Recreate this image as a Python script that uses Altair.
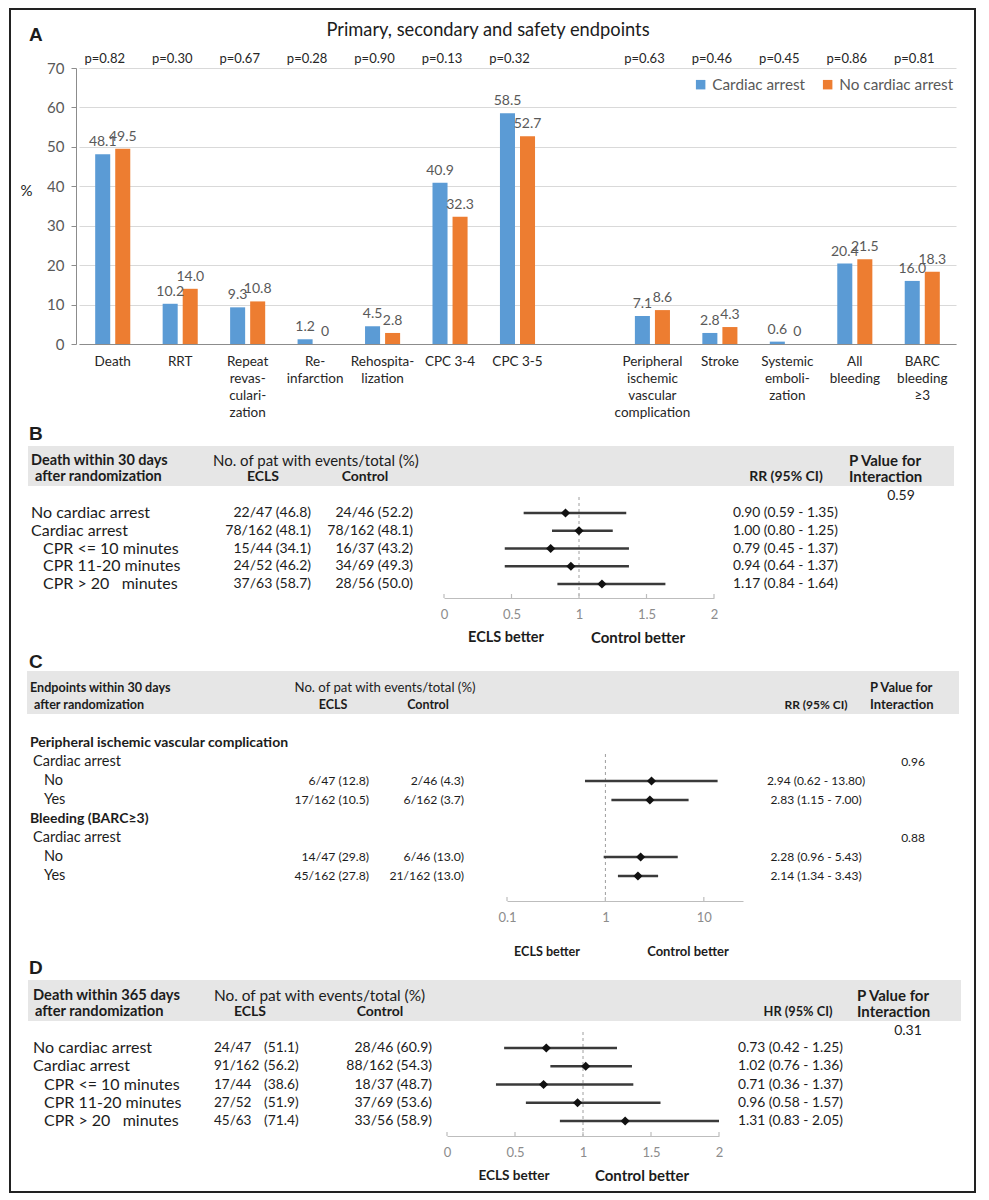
import altair as alt
import pandas as pd

FONT = "Lato"
LETTER_FONT = "Liberation Sans"
INK = "#1c1c1c"
AXIS_GREY = "#8c8c8c"
FRAME = "#222222"
HEADER_FILL = "#e6e6e6"
VIEW_W = 968

# ---------------- Panel A data ----------------
a_categories = ["Death", "RRT", "Repeat|revas-|culari-|zation", "Re-|infarction",
                "Rehospita-|lization", "CPC 3-4", "CPC 3-5",
                "Peripheral|ischemic|vascular|complication", "Stroke",
                "Systemic|emboli-|zation", "All|bleeding", "BARC|bleeding|≥3"]
a_cardiac_arrest = [48.1, 10.2, 9.3, 1.2, 4.5, 40.9, 58.5, 7.1, 2.8, 0.6, 20.4, 16.0]
a_no_cardiac_arrest = [49.5, 14.0, 10.8, 0.0, 2.8, 32.3, 52.7, 8.6, 4.3, 0.0, 21.5, 18.3]
a_p_values = ["p=0.82", "p=0.30", "p=0.67", "p=0.28", "p=0.90", "p=0.13", "p=0.32",
              "p=0.63", "p=0.46", "p=0.45", "p=0.86", "p=0.81"]
a_series = ["Cardiac arrest", "No cardiac arrest"]
a_colors = ["#5B9BD5", "#ED7D31"]
a_y_ticks = [0, 10, 20, 30, 40, 50, 60, 70]

# ---------------- Panel B data ----------------
b_subgroups = ["No cardiac arrest", "Cardiac arrest", "CPR <= 10 minutes",
               "CPR 11-20 minutes", "CPR > 20\u00a0\u00a0\u00a0minutes"]
b_levels = [0, 0, 1, 1, 1]
b_ecls = ["22/47 (46.8)", "78/162 (48.1)", "15/44 (34.1)", "24/52 (46.2)", "37/63 (58.7)"]
b_control = ["24/46 (52.2)", "78/162 (48.1)", "16/37 (43.2)", "34/69 (49.3)", "28/56 (50.0)"]
b_rr_text = ["0.90 (0.59 - 1.35)", "1.00 (0.80 - 1.25)", "0.79 (0.45 - 1.37)",
             "0.94 (0.64 - 1.37)", "1.17 (0.84 - 1.64)"]
b_est = [0.90, 1.00, 0.79, 0.94, 1.17]
b_lo = [0.59, 0.80, 0.45, 0.45, 0.84]   # whiskers as drawn in the figure
b_hi = [1.35, 1.25, 1.37, 1.37, 1.64]
b_p_interaction = "0.59"
b_x_ticks = [0, 0.5, 1, 1.5, 2]

# ---------------- Panel C data ----------------
c_rows = ["Peripheral ischemic vascular complication", "Cardiac arrest", "No", "Yes",
          "Bleeding (BARC≥3)", "Cardiac arrest", "No", "Yes"]
c_levels = [0, 1, 2, 2, 0, 1, 2, 2]
c_ecls = ["", "", "6/47 (12.8)", "17/162 (10.5)", "", "", "14/47 (29.8)", "45/162 (27.8)"]
c_control = ["", "", "2/46 (4.3)", "6/162 (3.7)", "", "", "6/46 (13.0)", "21/162 (13.0)"]
c_rr_text = ["", "", "2.94 (0.62 - 13.80)", "2.83 (1.15 - 7.00)", "", "",
             "2.28 (0.96 - 5.43)", "2.14 (1.34 - 3.43)"]
c_est = [None, None, 2.94, 2.83, None, None, 2.28, 2.14]
c_lo = [None, None, 0.62, 1.15, None, None, 0.96, 1.34]
c_hi = [None, None, 13.80, 7.00, None, None, 5.43, 3.43]
c_p_interaction = ["", "0.96", "", "", "", "0.88", "", ""]
c_x_ticks = [0.1, 1, 10]

# ---------------- Panel D data ----------------
d_subgroups = ["No cardiac arrest", "Cardiac arrest", "CPR <= 10 minutes",
               "CPR 11-20 minutes", "CPR > 20\u00a0\u00a0\u00a0minutes"]
d_levels = [0, 0, 1, 1, 1]
d_ecls_n = ["24/47", "91/162", "17/44", "27/52", "45/63"]
d_ecls_pct = ["(51.1)", "(56.2)", "(38.6)", "(51.9)", "(71.4)"]
d_control = ["28/46 (60.9)", "88/162 (54.3)", "18/37 (48.7)", "37/69 (53.6)", "33/56 (58.9)"]
d_hr_text = ["0.73 (0.42 - 1.25)", "1.02 (0.76 - 1.36)", "0.71 (0.36 - 1.37)",
             "0.96 (0.58 - 1.57)", "1.31 (0.83 - 2.05)"]
d_est = [0.73, 1.02, 0.71, 0.96, 1.31]
d_lo = [0.42, 0.76, 0.36, 0.58, 0.83]
d_hi = [1.25, 1.36, 1.37, 1.57, 2.05]
d_p_interaction = "0.31"
d_x_ticks = [0, 0.5, 1, 1.5, 2]

one = pd.DataFrame({"k": [0]})


def label(text, x, y, size=13, bold=False, align="left", color=INK, font=FONT):
    return alt.Chart(one).mark_text(
        text=text, font=font, fontSize=size, fontWeight="bold" if bold else "normal",
        align=align, baseline="middle", color=color
    ).encode(x=alt.value(x), y=alt.value(y))


def box(x, x2, y, y2, color):
    return alt.Chart(one).mark_rect(color=color).encode(
        x=alt.value(x), x2=alt.value(x2), y=alt.value(y), y2=alt.value(y2))


def frame(h, top=False, bottom=False):
    parts = [box(1, 3, 0, h, FRAME), box(966, 968, 0, h, FRAME)]
    if top:
        parts.append(box(1, 968, 0, 2, FRAME))
    if bottom:
        parts.append(box(1, 968, h - 2, h, FRAME))
    return parts


def rows_text(df, field, x, ys, size, align="left", bold=False, level=None):
    ch = alt.Chart(df)
    if level is not None:
        ch = ch.transform_filter(alt.datum.level == level)
    return ch.mark_text(
        font=FONT, fontSize=size, align=align, baseline="middle", color=INK,
        fontWeight="bold" if bold else "normal"
    ).encode(x=alt.value(x), y=alt.Y("row:Q", scale=ys, axis=None), text=alt.Text(f"{field}:N"))


def forest_axis(values, size=13):
    return alt.Axis(values=values, title=None, grid=False, ticks=False, tickSize=0,
                    labelExpr="'' + datum.value", labelFont=FONT, labelFontSize=size,
                    labelColor="#8c8c8c", labelPadding=10, labelFlush=False,
                    domainColor="#bdbdbd", domainWidth=1.2)


def forest_marks(df, xs, xaxis, ys, y_top, y_bottom, tick_values):
    valid = alt.Chart(df).transform_filter("isValid(datum.est)")
    ref = alt.Chart(pd.DataFrame({"no_effect": [1.0]})).mark_rule(
        color="#9e9e9e", strokeDash=[3, 3], strokeWidth=1
    ).encode(x=alt.X("no_effect:Q", scale=xs, axis=xaxis), y=alt.value(y_top), y2=alt.value(y_bottom))
    ticks = alt.Chart(pd.DataFrame({"tick": tick_values})).mark_rule(
        color="#bdbdbd", strokeWidth=1.2
    ).encode(x=alt.X("tick:Q", scale=xs, axis=xaxis), y=alt.value(y_bottom - 4), y2=alt.value(y_bottom))
    ci = valid.mark_rule(color="#3a3a3a", strokeWidth=2.5).encode(
        x=alt.X("lo:Q", scale=xs, axis=xaxis), x2="hi:Q", y=alt.Y("row:Q", scale=ys, axis=None))
    pt = valid.mark_point(shape="diamond", filled=True, size=85, color="#111111", opacity=1).encode(
        x=alt.X("est:Q", scale=xs, axis=xaxis), y=alt.Y("row:Q", scale=ys, axis=None))
    return [ref, ticks, ci, pt]


# ================= Panel A =================
HA = 336
a_domain = a_categories[:7] + [" "] + a_categories[7:]
a_rows = []
for cat, v in zip(a_categories, a_cardiac_arrest):
    a_rows.append({"category": cat, "series": a_series[0], "value": v})
for cat, v in zip(a_categories, a_no_cardiac_arrest):
    a_rows.append({"category": cat, "series": a_series[1], "value": v})
a_df = pd.DataFrame(a_rows)
p_df = pd.DataFrame({"category": a_categories, "p": a_p_values})

x_a = alt.X("category:N",
            scale=alt.Scale(domain=a_domain, range=[71, 948], paddingInner=0.48, paddingOuter=0.24),
            axis=alt.Axis(title=None, labelExpr="split(datum.label, '|')", labelAngle=0,
                          labelFont=FONT, labelFontSize=13.5, labelColor="#262626",
                          labelLineHeight=17, labelPadding=10, ticks=False, tickSize=0,
                          domainColor=AXIS_GREY, labelBaseline="top", labelAlign="center"))
y_a = alt.Y("value:Q", scale=alt.Scale(domain=[0, 70], range=[HA, 60], nice=False),
            axis=alt.Axis(values=a_y_ticks, offset=-68, title="%", titleAngle=0, titleX=-50,
                          titleY=182, titleAlign="center", titleBaseline="middle", titleFont=FONT,
                          titleFontSize=15, titleFontWeight="normal", titleColor=INK,
                          labelFont=FONT, labelFontSize=15, labelColor="#595959", labelPadding=7,
                          tickSize=5, tickColor=AXIS_GREY, domainColor=AXIS_GREY,
                          grid=True, gridColor="#d9d9d9"))
xo = alt.XOffset("series:N", scale=alt.Scale(domain=a_series, paddingInner=0.25, paddingOuter=0))

bars = alt.Chart(a_df).mark_bar().encode(
    x=x_a, xOffset=xo, y=y_a,
    color=alt.Color("series:N", scale=alt.Scale(domain=a_series, range=a_colors),
                    legend=alt.Legend(orient="none", legendX=685, legendY=69, direction="horizontal",
                                      title=None, symbolType="square", symbolSize=90,
                                      symbolStrokeWidth=0, labelFont=FONT, labelFontSize=15.3,
                                      labelColor="#595959", labelOffset=4, columnPadding=14)))
bar_labels = alt.Chart(a_df).transform_calculate(
    lab="datum.value == 0 ? '0' : format(datum.value, '.1f')"
).mark_text(font=FONT, fontSize=14, color="#595959", baseline="bottom", dy=-5).encode(
    x=x_a, xOffset=xo, y=y_a, text="lab:N")
pvals = alt.Chart(p_df).mark_text(font=FONT, fontSize=13, color="#262626", dx=-8,
                                  baseline="middle").encode(x=x_a, y=alt.value(51), text="p:N")

panel_a = alt.layer(
    *frame(416, top=True),
    label("A", 21, 27, 19, bold=True, font=LETTER_FONT),
    label("Primary, secondary and safety endpoints", 480, 23, 18.3, align="center"),
    bars, bar_labels, pvals,
).properties(width=VIEW_W, height=HA)

# ================= Panel B =================
HB = 174
b_df = pd.DataFrame({"row": list(range(len(b_subgroups))), "label": b_subgroups, "level": b_levels,
                     "ecls": b_ecls, "control": b_control, "ci_text": b_rr_text,
                     "est": b_est, "lo": b_lo, "hi": b_hi})
b_ys = alt.Scale(domain=[0, 4], range=[89, 160])
b_xs = alt.Scale(domain=[0, 2], range=[436, 706], clamp=True, nice=False, zero=False)
panel_b = alt.layer(
    *frame(228),
    box(20, 946, 22, 62, HEADER_FILL),
    label("B", 21, 10, 19, bold=True, font=LETTER_FONT),
    label("Death within 30 days", 23, 37, 14.5, bold=True),
    label("after randomization", 27, 53, 14.5, bold=True),
    label("No. of pat with events/total (%)", 205, 37, 15),
    label("ECLS", 255, 53, 14, bold=True, align="center"),
    label("Control", 357, 53, 14, bold=True, align="center"),
    label("RR (95% CI)", 778, 53, 14, bold=True, align="center"),
    label("P Value for", 841, 37, 15, bold=True),
    label("Interaction", 841, 53, 15, bold=True),
    label(b_p_interaction, 893, 72, 14, align="center"),
    rows_text(b_df, "label", 23, b_ys, 16, level=0),
    rows_text(b_df, "label", 35, b_ys, 16, level=1),
    rows_text(b_df, "ecls", 303, b_ys, 14, align="right"),
    rows_text(b_df, "control", 405, b_ys, 14, align="right"),
    rows_text(b_df, "ci_text", 725, b_ys, 13.8),
    *forest_marks(b_df, b_xs, forest_axis(b_x_ticks), b_ys, 73, HB, b_x_ticks),
    label("ECLS better", 498, 214, 14.5, bold=True, align="center"),
    label("Control better", 630, 214, 15, bold=True, align="center"),
).properties(width=VIEW_W, height=HB)

# ================= Panel C =================
HC = 249
c_df = pd.DataFrame({"row": list(range(len(c_rows))), "label": c_rows, "level": c_levels,
                     "ecls": c_ecls, "control": c_control, "ci_text": c_rr_text,
                     "p_int": c_p_interaction, "est": c_est, "lo": c_lo, "hi": c_hi})
c_ys = alt.Scale(domain=[0, 7], range=[91, 224])
c_xs = alt.Scale(type="log", domain=[0.1, 25], range=[499, 735], clamp=True, nice=False)
panel_c = alt.layer(
    *frame(307),
    box(19, 951, 19, 62, HEADER_FILL),
    label("C", 21, 10, 19, bold=True, font=LETTER_FONT),
    label("Endpoints within 30 days", 22, 36, 12.6, bold=True),
    label("after randomization", 26, 53, 12.6, bold=True),
    label("No. of pat with events/total (%)", 377, 36, 13.2, align="center"),
    label("ECLS", 325, 53, 12.5, bold=True, align="center"),
    label("Control", 420, 53, 12.5, bold=True, align="center"),
    label("RR (95% CI)", 808, 53, 12, bold=True, align="center"),
    label("P Value for", 862, 36, 13, bold=True),
    label("Interaction", 862, 53, 13, bold=True),
    rows_text(c_df, "label", 22, c_ys, 14, bold=True, level=0),
    rows_text(c_df, "label", 25, c_ys, 14.5, level=1),
    rows_text(c_df, "label", 36, c_ys, 14.5, level=2),
    rows_text(c_df, "ecls", 361, c_ys, 12.2, align="right"),
    rows_text(c_df, "control", 456, c_ys, 12.2, align="right"),
    rows_text(c_df, "ci_text", 808, c_ys, 12, align="center"),
    rows_text(c_df, "p_int", 905, c_ys, 12, align="center"),
    *forest_marks(c_df, c_xs, forest_axis(c_x_ticks), c_ys, 102, HC, c_x_ticks),
    label("ECLS better", 539, 300, 12.6, bold=True, align="center"),
    label("Control better", 680, 300, 13, bold=True, align="center"),
).properties(width=VIEW_W, height=HC)

# ================= Panel D =================
HD = 177
d_df = pd.DataFrame({"row": list(range(len(d_subgroups))), "label": d_subgroups, "level": d_levels,
                     "ecls_n": d_ecls_n, "ecls_pct": d_ecls_pct, "control": d_control,
                     "ci_text": d_hr_text, "est": d_est, "lo": d_lo, "hi": d_hi})
d_ys = alt.Scale(domain=[0, 4], range=[89, 162])
d_xs = alt.Scale(domain=[0, 2], range=[439, 711], clamp=True, nice=False, zero=False)
panel_d = alt.layer(
    *frame(234, bottom=True),
    box(20, 953, 21, 62, HEADER_FILL),
    label("D", 21, 9, 19, bold=True, font=LETTER_FONT),
    label("Death within 365 days", 25, 37, 14.7, bold=True),
    label("after randomization", 27, 53, 14.7, bold=True),
    label("No. of pat with events/total (%)", 206, 37, 15.4),
    label("ECLS", 242, 53, 14, bold=True, align="center"),
    label("Control", 372, 53, 14, bold=True, align="center"),
    label("HR (95% CI)", 790, 53, 12.8, bold=True, align="center"),
    label("P Value for", 849, 37, 15, bold=True),
    label("Interaction", 849, 53, 15, bold=True),
    label(d_p_interaction, 900, 72, 14, align="center"),
    rows_text(d_df, "label", 25, d_ys, 16, level=0),
    rows_text(d_df, "label", 36, d_ys, 16, level=1),
    rows_text(d_df, "ecls_n", 206, d_ys, 13.5),
    rows_text(d_df, "ecls_pct", 256, d_ys, 13.8),
    rows_text(d_df, "control", 424, d_ys, 14, align="right"),
    rows_text(d_df, "ci_text", 730, d_ys, 13.8),
    *forest_marks(d_df, d_xs, forest_axis(d_x_ticks), d_ys, 73, HD, d_x_ticks),
    label("ECLS better", 506, 217, 13.6, bold=True, align="center"),
    label("Control better", 634, 217, 15, bold=True, align="center"),
).properties(width=VIEW_W, height=HD)

chart = alt.vconcat(panel_a, panel_b, panel_c, panel_d, spacing=0).properties(
    padding={"left": 0, "top": 0, "right": 4, "bottom": 4}
).configure_view(stroke=None)

chart.save("out.html", embed_options={"renderer": "svg", "actions": False})
